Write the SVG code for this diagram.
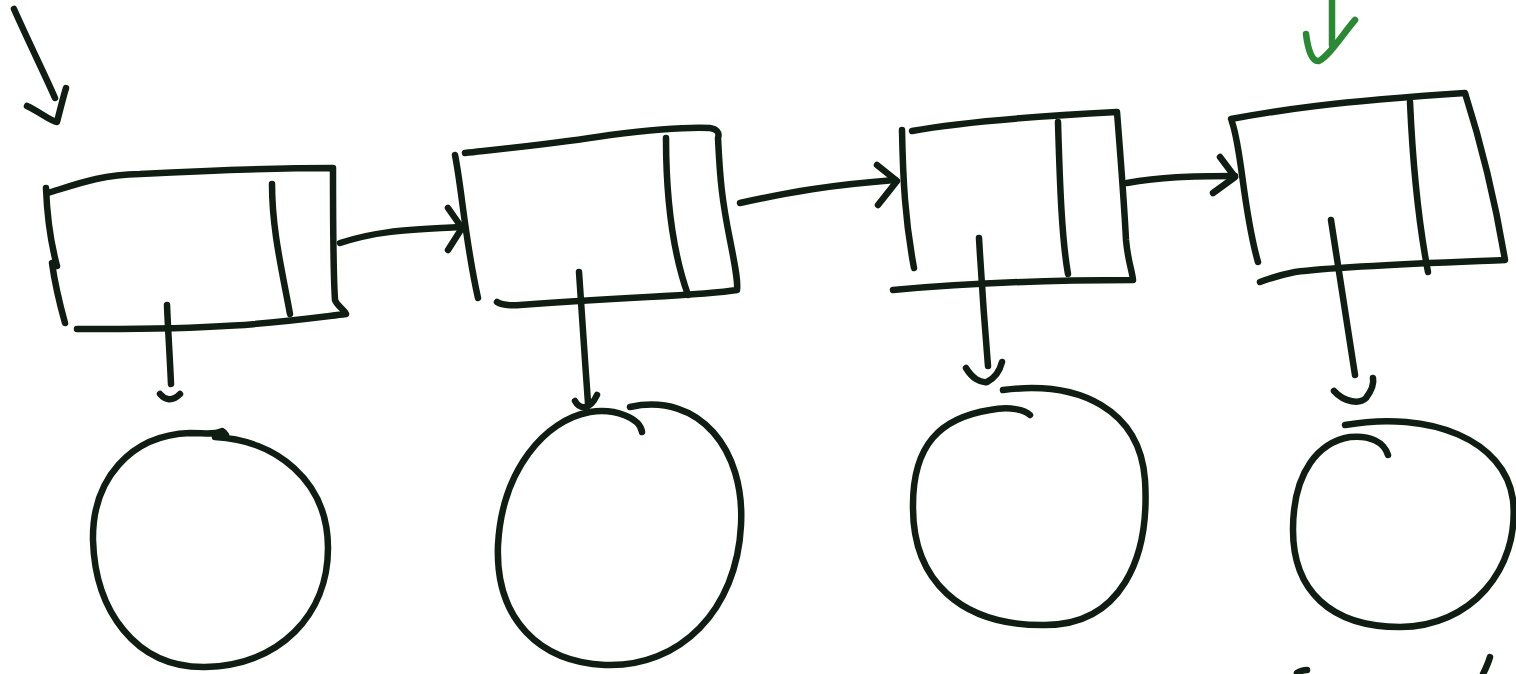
<svg xmlns="http://www.w3.org/2000/svg" width="1516" height="674" viewBox="0 0 1516 674">
<style>
.s{fill:none;stroke:#0f1d13;stroke-width:6.5;stroke-linecap:round;stroke-linejoin:round}
.g{fill:none;stroke:#2a8a34;stroke-width:6.5;stroke-linecap:round;stroke-linejoin:round}
</style>
<rect width="1516" height="674" fill="#ffffff"/>
<g id="head-arrow">
<path class="s" d="M14,9 C30,45 45,75 55,98"/>
<path class="s" d="M27,106 C40,112 50,121 57,122 C60,110 63,98 66,88"/>
</g>
<g id="tail-arrow">
<path class="g" d="M1332,0 L1332,45"/>
<path class="g" d="M1306,34 C1308,50 1312,62 1319,61 C1330,55 1342,35 1355,20"/>
</g>
<g id="node1">
<path class="s" d="M48,193 C80,183 100,175 140,174 C220,170 290,168 333,168 C333,220 333,270 335,300 C337,306 345,310 346,314 C280,322 230,330 77,329"/>
<path class="s" d="M46,188 C47,215 50,240 57,266"/>
<path class="s" d="M52,263 C55,285 60,305 65,323"/>
<path class="s" d="M272,184 C272,230 282,270 290,314"/>
</g>
<g id="node2">
<path class="s" d="M465,153 C520,147 560,143 610,135 C650,130 690,127 710,128 C716,129 720,132 718,138 C720,180 722,200 730,240 C736,270 738,282 737,290 C700,296 640,296 520,305 C505,306 500,304 497,302"/>
<path class="s" d="M455,155 C462,190 465,240 478,298"/>
<path class="s" d="M666,138 C666,200 672,250 688,295"/>
</g>
<g id="node3">
<path class="s" d="M912,131 C960,122 1040,116 1117,112 C1120,150 1124,200 1126,240 C1128,262 1132,270 1133,280 C1060,280 980,282 893,290"/>
<path class="s" d="M902,130 C903,180 905,220 914,268"/>
<path class="s" d="M1058,122 C1060,190 1062,240 1068,274"/>
</g>
<g id="node4">
<path class="s" d="M1231,119 C1280,110 1330,102 1465,93 C1480,140 1495,200 1505,260 C1430,263 1340,266 1295,272 C1280,275 1268,279 1260,282"/>
<path class="s" d="M1232,122 C1242,150 1243,210 1258,262"/>
<path class="s" d="M1410,102 C1413,170 1420,230 1428,272"/>
</g>
<g id="circle1">
<path class="s" d="M215,437 C275,440 328,480 328,548 C328,615 280,665 205,667 C135,668 95,610 93,540 C92,480 130,435 190,433 C205,433 215,435 222,431 C224,432 226,435 226,435"/>
</g>
<g id="circle2">
<path class="s" d="M630,407 C700,392 745,450 741,525 C737,610 680,668 605,665 C540,662 495,620 498,545 C502,470 545,420 590,412 C615,408 640,418 642,432"/>
</g>
<g id="circle3">
<path class="s" d="M1003,390 C1080,380 1140,410 1145,480 C1150,560 1120,625 1045,625 C960,626 912,580 913,505 C913,445 940,418 990,410 C1010,406 1025,410 1030,415"/>
</g>
<g id="circle4">
<path class="s" d="M1345,425 C1430,410 1505,440 1513,500 C1520,570 1470,627 1400,627 C1330,627 1293,590 1293,530 C1293,470 1320,442 1350,437 C1370,435 1384,442 1388,455"/>
</g>
<g id="connectors">
<path class="s" d="M340,243 C380,230 410,230 460,227"/>
<path class="s" d="M448,208 L462,228 L448,250"/>
<path class="s" d="M740,203 C790,192 830,185 895,180"/>
<path class="s" d="M877,165 L897,181 L878,205"/>
<path class="s" d="M1127,183 C1160,177 1190,176 1235,176"/>
<path class="s" d="M1220,157 L1235,177 L1213,193"/>
<path class="s" d="M167,305 C168,330 170,360 171,384"/>
<path class="s" d="M160,394 C165,400 172,402 180,394"/>
<path class="s" d="M579,272 C582,320 585,360 588,403"/>
<path class="s" d="M575,401 C580,410 590,410 597,395"/>
<path class="s" d="M979,238 C982,290 985,330 988,366"/>
<path class="s" d="M966,368 C972,378 980,383 987,382 C995,378 1000,370 1002,362"/>
<path class="s" d="M1331,220 C1340,280 1348,330 1355,375"/>
<path class="s" d="M1334,391 C1345,403 1360,404 1366,398 C1372,390 1374,383 1373,378"/>
</g>
<g id="fragments">
<path class="s" d="M1297,673 C1300,671 1304,670 1307,670"/>
<path class="s" d="M1490,657 C1488,664 1485,670 1483,674"/>
</g>
</svg>
